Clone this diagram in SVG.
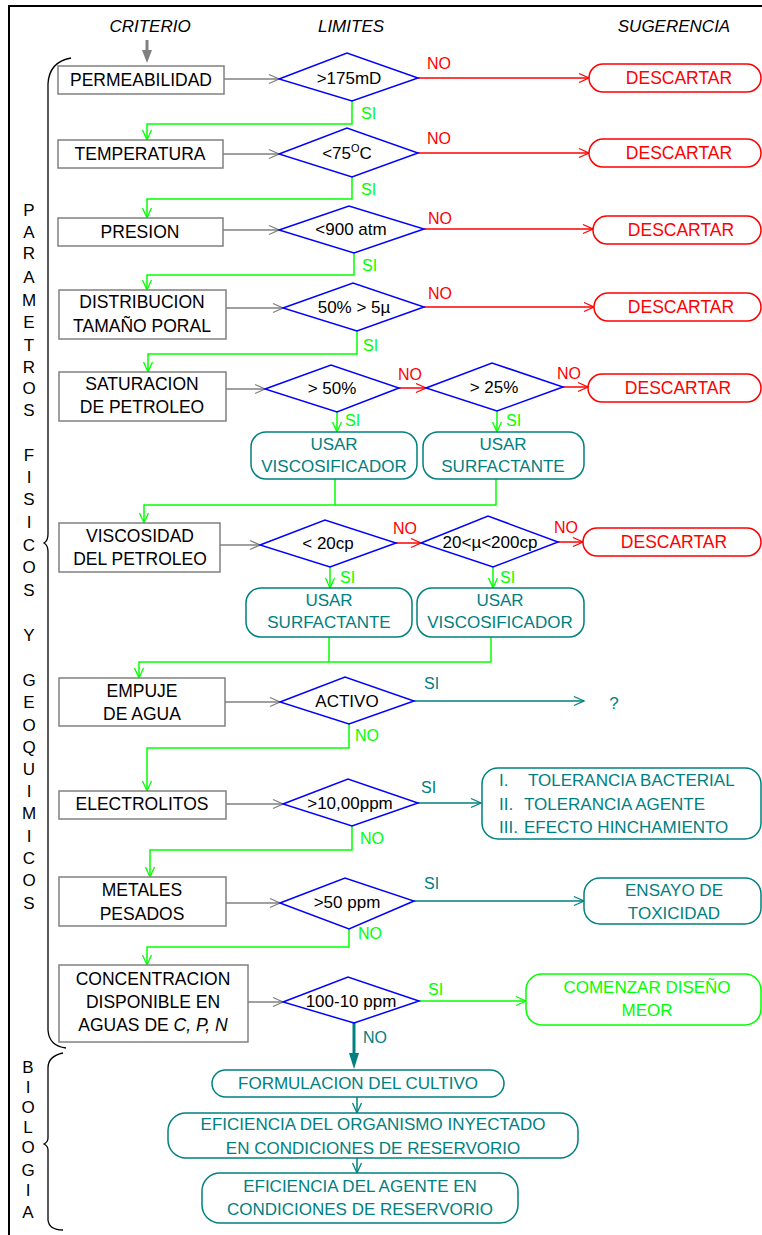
<svg xmlns="http://www.w3.org/2000/svg" width="762" height="1235" viewBox="0 0 762 1235">
<defs>
<style>
text{font-family:"Liberation Sans",Arial,sans-serif;font-size:17px}
.hd{font-style:italic;fill:#000}
.bx{fill:#fff;stroke:#808080;stroke-width:1.5}
.bt{fill:#000;text-anchor:middle;font-size:17.5px}
.dm{fill:#fff;stroke:#0000ff;stroke-width:1.5}
.dt{fill:#000;text-anchor:middle}
.rd{fill:#fff;stroke:#ff0000;stroke-width:1.5}
.rt{fill:#ff0000;text-anchor:middle;font-size:17.5px}
.tl{fill:#fff;stroke:#008080;stroke-width:1.5}
.tt{fill:#008080;text-anchor:middle}
.gb{fill:#fff;stroke:#00ff00;stroke-width:1.5}
.gt{fill:#00ff00;text-anchor:middle}
.lg{fill:none;stroke:#808080;stroke-width:1.5}
.lr{fill:none;stroke:#ff0000;stroke-width:1.5}
.lgr{fill:none;stroke:#00ff00;stroke-width:1.5}
.lt{fill:none;stroke:#008080;stroke-width:1.5}
.labg{fill:#00ff00;font-size:16px}
.labr{fill:#ff0000;font-size:16px}
.labt{fill:#008080;font-size:16px}
.vt{fill:#000;text-anchor:middle;font-size:17px}
.br{fill:none;stroke:#000;stroke-width:1.3}
</style>
<marker id="mg" viewBox="0 0 10 9" refX="10" refY="4.5" markerWidth="10" markerHeight="9" markerUnits="userSpaceOnUse" orient="auto" overflow="visible"><path d="M0,0 L10,4.5 L0,9" fill="none" stroke="#808080" stroke-width="1.3"/></marker>
<marker id="mr" viewBox="0 0 10 9" refX="10" refY="4.5" markerWidth="10" markerHeight="9" markerUnits="userSpaceOnUse" orient="auto" overflow="visible"><path d="M0,0 L10,4.5 L0,9" fill="none" stroke="#ff0000" stroke-width="1.3"/></marker>
<marker id="mgr" viewBox="0 0 10 9" refX="10" refY="4.5" markerWidth="10" markerHeight="9" markerUnits="userSpaceOnUse" orient="auto" overflow="visible"><path d="M0,0 L10,4.5 L0,9" fill="none" stroke="#00ff00" stroke-width="1.3"/></marker>
<marker id="mt" viewBox="0 0 10 9" refX="10" refY="4.5" markerWidth="10" markerHeight="9" markerUnits="userSpaceOnUse" orient="auto" overflow="visible"><path d="M0,0 L10,4.5 L0,9" fill="none" stroke="#008080" stroke-width="1.3"/></marker>
</defs>
<rect width="762" height="1235" fill="#fff"/>

<g id="frame">
<line x1="8" y1="6" x2="762" y2="6" stroke="#000" stroke-width="2"/>
<line x1="9" y1="5" x2="9" y2="1235" stroke="#000" stroke-width="2"/>
</g>

<g id="headers">
<text class="hd" x="150" y="32" text-anchor="middle" font-size="17.5">CRITERIO</text>
<text class="hd" x="351" y="32" text-anchor="middle" font-size="17.5">LIMITES</text>
<text class="hd" x="674" y="32" text-anchor="middle" font-size="17.5">SUGERENCIA</text>
</g>

<g id="braces">
<path class="br" d="M71,58 Q49,62 48,84 L48,534 Q48,541 44,543 Q48,545 48,552 L48,1030 Q49,1046 66,1048"/>
<path class="br" d="M63,1053 Q48,1056 48,1068 L48,1138 Q48,1142 44,1144 Q48,1146 48,1150 L48,1220 Q49,1230 63,1230"/>
</g>

<g id="side-labels">
<text class="vt" x="29"><tspan x="29" y="216">P</tspan><tspan x="29" y="238">A</tspan><tspan x="29" y="259">R</tspan><tspan x="29" y="283">A</tspan><tspan x="29" y="306">M</tspan><tspan x="29" y="328">E</tspan><tspan x="29" y="351">T</tspan><tspan x="29" y="373">R</tspan><tspan x="29" y="394">O</tspan><tspan x="29" y="416">S</tspan><tspan x="29" y="461">F</tspan><tspan x="29" y="483">I</tspan><tspan x="29" y="505">S</tspan><tspan x="29" y="528">I</tspan><tspan x="29" y="551">C</tspan><tspan x="29" y="573">O</tspan><tspan x="29" y="596">S</tspan><tspan x="29" y="641">Y</tspan><tspan x="29" y="686">G</tspan><tspan x="29" y="708">E</tspan><tspan x="29" y="731">O</tspan><tspan x="29" y="753">Q</tspan><tspan x="29" y="775">U</tspan><tspan x="29" y="797">I</tspan><tspan x="29" y="819">M</tspan><tspan x="29" y="842">I</tspan><tspan x="29" y="864">C</tspan><tspan x="29" y="886">O</tspan><tspan x="29" y="909">S</tspan></text>
<text class="vt" x="28" font-size="16"><tspan x="28" y="1073">B</tspan><tspan x="28" y="1093">I</tspan><tspan x="28" y="1113">O</tspan><tspan x="28" y="1133">L</tspan><tspan x="28" y="1153">O</tspan><tspan x="28" y="1176">G</tspan><tspan x="28" y="1196">I</tspan><tspan x="28" y="1218">A</tspan></text>
</g>

<g id="connectors">
<line x1="147" y1="40" x2="147" y2="52" stroke="#808080" stroke-width="3"/>
<polygon points="142,50 152,50 147,63" fill="#808080"/>
<line class="lg" x1="224" y1="79" x2="279" y2="79" marker-end="url(#mg)"/>
<line class="lg" x1="223" y1="154" x2="279" y2="154" marker-end="url(#mg)"/>
<line class="lg" x1="223" y1="230" x2="279" y2="230" marker-end="url(#mg)"/>
<line class="lg" x1="226" y1="308" x2="283" y2="308" marker-end="url(#mg)"/>
<line class="lg" x1="226" y1="389" x2="265" y2="389" marker-end="url(#mg)"/>
<line class="lg" x1="220" y1="545" x2="260" y2="545" marker-end="url(#mg)"/>
<line class="lg" x1="225" y1="702" x2="280" y2="702" marker-end="url(#mg)"/>
<line class="lg" x1="226" y1="804" x2="283" y2="804" marker-end="url(#mg)"/>
<line class="lg" x1="226" y1="903" x2="280" y2="903" marker-end="url(#mg)"/>
<line class="lg" x1="248" y1="1002" x2="283" y2="1002" marker-end="url(#mg)"/>
<line class="lr" x1="418" y1="78" x2="589" y2="78" marker-end="url(#mr)"/>
<line class="lr" x1="418" y1="153" x2="589" y2="153" marker-end="url(#mr)"/>
<line class="lr" x1="424" y1="229" x2="593" y2="229" marker-end="url(#mr)"/>
<line class="lr" x1="424" y1="307" x2="594" y2="307" marker-end="url(#mr)"/>
<line class="lr" x1="399" y1="388" x2="426" y2="388" marker-end="url(#mr)"/>
<line class="lr" x1="563" y1="387" x2="588" y2="387" marker-end="url(#mr)"/>
<line class="lr" x1="396" y1="543" x2="421" y2="543" marker-end="url(#mr)"/>
<line class="lr" x1="558" y1="542" x2="583" y2="542" marker-end="url(#mr)"/>
<text class="labr" x="427" y="69">NO</text>
<text class="labr" x="427" y="144">NO</text>
<text class="labr" x="428" y="224">NO</text>
<text class="labr" x="428" y="299">NO</text>
<text class="labr" x="398" y="380">NO</text>
<text class="labr" x="557" y="379">NO</text>
<text class="labr" x="393" y="534">NO</text>
<text class="labr" x="554" y="533">NO</text>
<polyline class="lgr" points="352,101 352,124 147,124 147,140" marker-end="url(#mgr)"/>
<polyline class="lgr" points="352,177 352,199 147,199 147,218" marker-end="url(#mgr)"/>
<polyline class="lgr" points="354,253 354,275 147,275 147,290" marker-end="url(#mgr)"/>
<polyline class="lgr" points="357,331 357,354 148,354 148,372" marker-end="url(#mgr)"/>
<line class="lgr" x1="337" y1="412" x2="337" y2="432" marker-end="url(#mgr)"/>
<line class="lgr" x1="497" y1="411" x2="497" y2="432" marker-end="url(#mgr)"/>
<line class="lgr" x1="335" y1="479" x2="335" y2="505"/>
<polyline class="lgr" points="496,479 496,505 144,505 144,523" marker-end="url(#mgr)"/>
<line class="lgr" x1="330" y1="567" x2="330" y2="588" marker-end="url(#mgr)"/>
<line class="lgr" x1="493" y1="567" x2="493" y2="588" marker-end="url(#mgr)"/>
<line class="lgr" x1="329" y1="637" x2="329" y2="662"/>
<polyline class="lgr" points="491,637 491,662 139,662 139,678" marker-end="url(#mgr)"/>
<polyline class="lgr" points="349,724 349,748 147,748 147,791" marker-end="url(#mgr)"/>
<polyline class="lgr" points="352,826 352,850 150,850 150,877" marker-end="url(#mgr)"/>
<polyline class="lgr" points="349,929 349,947 147,947 147,965" marker-end="url(#mgr)"/>
<line class="lgr" x1="419" y1="1001" x2="526" y2="1001" marker-end="url(#mgr)"/>
<text class="labg" x="361" y="119">SI</text>
<text class="labg" x="361" y="195">SI</text>
<text class="labg" x="362" y="271">SI</text>
<text class="labg" x="363" y="351">SI</text>
<text class="labg" x="345" y="426">SI</text>
<text class="labg" x="506" y="426">SI</text>
<text class="labg" x="340" y="583">SI</text>
<text class="labg" x="500" y="583">SI</text>
<text class="labg" x="355" y="741">NO</text>
<text class="labg" x="360" y="844">NO</text>
<text class="labg" x="358" y="939">NO</text>
<text class="labg" x="428" y="995">SI</text>
<line class="lt" x1="414" y1="701" x2="584" y2="701" marker-end="url(#mt)"/>
<line class="lt" x1="418" y1="803" x2="481" y2="803" marker-end="url(#mt)"/>
<line class="lt" x1="414" y1="901" x2="584" y2="901" marker-end="url(#mt)"/>
<text class="labt" x="424" y="689">SI</text>
<text class="labt" x="421" y="793">SI</text>
<text class="labt" x="424" y="889">SI</text>
<line x1="354" y1="1023" x2="354" y2="1055" stroke="#008080" stroke-width="3"/>
<polygon points="349,1053 359,1053 354,1069" fill="#008080"/>
<text class="labt" x="363" y="1043">NO</text>
<line class="lt" x1="357" y1="1097" x2="357" y2="1113" marker-end="url(#mt)"/>
<line class="lt" x1="357" y1="1158" x2="357" y2="1173" marker-end="url(#mt)"/>
</g>

<g id="n-permeabilidad"><rect class="bx" x="58" y="66" width="166" height="28"/><text class="bt" x="141" y="86">PERMEABILIDAD</text></g>
<g id="n-temperatura"><rect class="bx" x="58" y="140" width="165" height="28"/><text class="bt" x="140" y="160">TEMPERATURA</text></g>
<g id="n-presion"><rect class="bx" x="58" y="218" width="165" height="28"/><text class="bt" x="140" y="238">PRESION</text></g>
<g id="n-distribucion"><rect class="bx" x="59" y="290" width="167" height="49"/><text class="bt" x="142" y="308">DISTRIBUCION</text><text class="bt" x="142" y="332">TAMAÑO PORAL</text></g>
<g id="n-saturacion"><rect class="bx" x="59" y="372" width="167" height="49"/><text class="bt" x="142" y="390">SATURACION</text><text class="bt" x="142" y="413">DE PETROLEO</text></g>
<g id="n-viscosidad"><rect class="bx" x="59" y="523" width="161" height="49"/><text class="bt" x="140" y="542">VISCOSIDAD</text><text class="bt" x="140" y="565">DEL PETROLEO</text></g>
<g id="n-empuje"><rect class="bx" x="59" y="678" width="166" height="48"/><text class="bt" x="142" y="697">EMPUJE</text><text class="bt" x="142" y="720">DE AGUA</text></g>
<g id="n-electrolitos"><rect class="bx" x="59" y="791" width="167" height="28"/><text class="bt" x="142" y="810">ELECTROLITOS</text></g>
<g id="n-metales"><rect class="bx" x="59" y="877" width="167" height="49"/><text class="bt" x="142" y="896">METALES</text><text class="bt" x="142" y="920">PESADOS</text></g>
<g id="n-concentracion"><rect class="bx" x="59" y="965" width="189" height="77"/><text class="bt" x="153" y="985">CONCENTRACION</text><text class="bt" x="153" y="1008">DISPONIBLE EN</text><text class="bt" x="153" y="1031">AGUAS DE <tspan font-style="italic">C, P, N</tspan></text></g>

<g id="d-perm"><polygon class="dm" points="279,79 347,53 418,78 352,101"/><text class="dt" x="349" y="84">&gt;175mD</text></g>
<g id="d-temp"><polygon class="dm" points="279,154 347,128 418,153 352,177"/><text class="dt" x="347" y="159">&lt;75<tspan font-size="11" dy="-7">O</tspan><tspan dy="7">C</tspan></text></g>
<g id="d-pres"><polygon class="dm" points="279,230 349,206 424,229 354,253"/><text class="dt" x="351" y="235">&lt;900 atm</text></g>
<g id="d-dist"><polygon class="dm" points="283,308 353,283 424,307 357,331"/><text class="dt" x="354" y="313">50% &gt; 5µ</text></g>
<g id="d-sat1"><polygon class="dm" points="265,389 331,365 399,388 337,412"/><text class="dt" x="332" y="394">&gt; 50%</text></g>
<g id="d-sat2"><polygon class="dm" points="426,388 492,363 563,387 497,411"/><text class="dt" x="494" y="393">&gt; 25%</text></g>
<g id="d-visc1"><polygon class="dm" points="260,545 325,520 396,543 330,567"/><text class="dt" x="328" y="549">&lt; 20cp</text></g>
<g id="d-visc2"><polygon class="dm" points="421,543 488,516 558,542 493,567"/><text class="dt" x="490" y="548">20&lt;µ&lt;200cp</text></g>
<g id="d-activo"><polygon class="dm" points="280,702 345,677 414,701 349,724"/><text class="dt" x="347" y="707">ACTIVO</text></g>
<g id="d-elec"><polygon class="dm" points="283,804 348,779 418,803 352,826"/><text class="dt" x="350" y="809">&gt;10,00ppm</text></g>
<g id="d-metal"><polygon class="dm" points="280,903 345,878 414,901 349,929"/><text class="dt" x="347" y="908">&gt;50 ppm</text></g>
<g id="d-conc"><polygon class="dm" points="283,1002 348,977 419,1001 354,1023"/><text class="dt" x="351" y="1007">100-10 ppm</text></g>

<g id="s-descartar1"><rect class="rd" x="589" y="64" width="172" height="28" rx="14"/><text class="rt" x="679" y="84">DESCARTAR</text></g>
<g id="s-descartar2"><rect class="rd" x="589" y="139" width="172" height="28" rx="14"/><text class="rt" x="679" y="159">DESCARTAR</text></g>
<g id="s-descartar3"><rect class="rd" x="593" y="216" width="168" height="28" rx="14"/><text class="rt" x="681" y="236">DESCARTAR</text></g>
<g id="s-descartar4"><rect class="rd" x="594" y="293" width="167" height="28" rx="14"/><text class="rt" x="681" y="313">DESCARTAR</text></g>
<g id="s-descartar5"><rect class="rd" x="588" y="374" width="173" height="28" rx="14"/><text class="rt" x="678" y="394">DESCARTAR</text></g>
<g id="s-descartar6"><rect class="rd" x="583" y="528" width="178" height="28" rx="14"/><text class="rt" x="674" y="548">DESCARTAR</text></g>

<g id="s-usar-visc1"><rect class="tl" x="251" y="432" width="166" height="47" rx="15"/><text class="tt" x="334" y="450" font-size="16">USAR</text><text class="tt" x="334" y="472" font-size="16">VISCOSIFICADOR</text></g>
<g id="s-usar-surf1"><rect class="tl" x="423" y="432" width="161" height="47" rx="15"/><text class="tt" x="503" y="450" font-size="16">USAR</text><text class="tt" x="503" y="472" font-size="16">SURFACTANTE</text></g>
<g id="s-usar-surf2"><rect class="tl" x="246" y="588" width="166" height="49" rx="15"/><text class="tt" x="329" y="606" font-size="16">USAR</text><text class="tt" x="329" y="628" font-size="16">SURFACTANTE</text></g>
<g id="s-usar-visc2"><rect class="tl" x="417" y="588" width="167" height="49" rx="15"/><text class="tt" x="500" y="606" font-size="16">USAR</text><text class="tt" x="500" y="628" font-size="16">VISCOSIFICADOR</text></g>

<g id="s-question"><text class="tt" x="614" y="709" font-size="20">?</text></g>
<g id="s-tolerancia"><rect class="tl" x="482" y="768" width="279" height="71" rx="16"/>
<text fill="#008080" x="499" y="786">I.</text><text fill="#008080" x="528" y="786">TOLERANCIA BACTERIAL</text>
<text fill="#008080" x="499" y="810">II.</text><text fill="#008080" x="524" y="810">TOLERANCIA AGENTE</text>
<text fill="#008080" x="499" y="833">III.</text><text fill="#008080" x="524" y="833">EFECTO HINCHAMIENTO</text></g>
<g id="s-ensayo"><rect class="tl" x="584" y="878" width="177" height="46" rx="16"/><text class="tt" x="674" y="896">ENSAYO DE</text><text class="tt" x="674" y="919">TOXICIDAD</text></g>
<g id="s-comenzar"><rect class="gb" x="526" y="974" width="235" height="51" rx="16"/><text class="gt" x="647" y="993">COMENZAR DISEÑO</text><text class="gt" x="647" y="1016">MEOR</text></g>

<g id="b-formulacion"><rect class="tl" x="212" y="1070" width="292" height="27" rx="13.5"/><text class="tt" x="358" y="1089">FORMULACION DEL CULTIVO</text></g>
<g id="b-eficiencia-org"><rect class="tl" x="168" y="1113" width="410" height="45" rx="18"/><text class="tt" x="373" y="1130">EFICIENCIA DEL ORGANISMO INYECTADO</text><text class="tt" x="373" y="1154">EN CONDICIONES DE RESERVORIO</text></g>
<g id="b-eficiencia-agente"><rect class="tl" x="202" y="1173" width="316" height="50" rx="18"/><text class="tt" x="360" y="1192">EFICIENCIA DEL AGENTE EN</text><text class="tt" x="360" y="1215">CONDICIONES DE RESERVORIO</text></g>
</svg>
